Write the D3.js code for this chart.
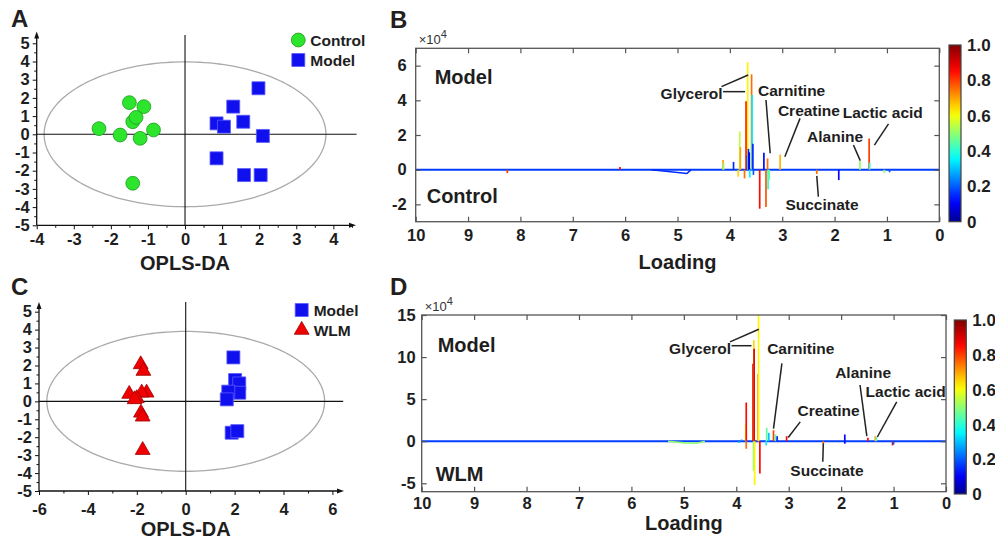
<!DOCTYPE html>
<html><head><meta charset="utf-8">
<script src="https://cdn.jsdelivr.net/npm/d3@7"></script>
<style>
body{margin:0;background:#fff;}
svg{font-family:"Liberation Sans",Arial,sans-serif;}
</style></head><body>
<svg id="c" width="995" height="546"></svg>
<script>
// ---------------- DATA ----------------
// Panel A: OPLS-DA scores (Control vs Model)
const controlA = [[-1.50,1.74],[-1.11,1.52],[-1.41,0.69],[-1.32,0.93],[-2.32,0.31],[-1.75,-0.04],[-1.21,-0.22],[-0.85,0.24],[-1.41,-2.69]];
const modelA   = [[1.98,2.53],[1.30,1.52],[1.57,0.69],[0.85,0.60],[1.05,0.42],[2.10,-0.09],[0.85,-1.32],[1.59,-2.24],[2.04,-2.24]];
// Panel C: OPLS-DA scores (Model vs WLM)
const modelC   = [[1.95,2.45],[2.02,1.19],[2.19,1.00],[2.19,0.48],[1.74,0.54],[1.68,0.11],[1.88,-1.75],[2.11,-1.66]];
const wlmC     = [[-1.84,2.06],[-1.73,1.69],[-2.31,0.41],[-1.60,0.48],[-1.80,0.48],[-2.00,0.17],[-2.09,0.11],[-1.83,-0.64],[-1.76,-0.86],[-1.76,-2.72]];
const xTicksA = [-4,-3,-2,-1,0,1,2,3,4];
const xTicksC = [-6,-4,-2,0,2,4,6];
const yTicksAC = [-5,-4,-3,-2,-1,0,1,2,3,4,5];
const ellipseA = {rx:3.8, ry:3.98};
const ellipseC = {rx:5.68, ry:3.9};

// Panel B: loading peaks [ppm, value(x1e4), correlation]
const peaksB = [
 [8.25,-0.2,0.8],[6.1,0.15,0.85],
 [4.13,0.56,0.7],[4.12,0.4,0.5],[3.93,0.45,0.15],
 [3.84,-0.4,0.65],[3.81,2.2,0.55],[3.80,1.3,0.7],
 [3.72,-0.5,0.75],[3.69,3.95,0.85],[3.675,0.8,0.15],[3.66,6.2,0.62],
 [3.645,1.2,0.15],[3.63,1.0,0.1],[3.62,-0.45,0.35],[3.585,5.5,0.75],[3.575,4.3,0.35],
 [3.56,1.5,0.15],[3.55,-0.3,0.2],[3.43,-2.25,0.85],[3.35,0.98,0.12],[3.31,-2.15,0.78],
 [3.28,0.65,0.75],[3.27,-1.15,0.4],[3.25,-0.6,0.45],[3.04,0.87,0.68],
 [2.34,-0.25,0.75],[1.92,-0.6,0.12],[1.515,0.5,0.5],[1.34,1.8,0.8],[1.33,0.4,0.4],
 [1.05,-0.2,0.5],[0.95,-0.15,0.2]
];
const dipB = [[5.5,0],[4.82,-0.22],[4.74,0]];
// Panel D: loading peaks [ppm, value(x1e4), correlation]
const peaksD = [
 [3.95,-0.2,0.3],[3.9,0.2,0.25],
 [3.82,2.0,0.6],[3.81,4.6,0.85],[3.81,-0.9,0.75],
 [3.68,9.2,0.88],[3.67,-3.5,0.5],[3.665,12.0,0.65],[3.66,11.0,0.9],[3.65,-5.2,0.62],
 [3.585,8.0,0.72],[3.575,15,0.62],[3.55,-3.85,0.85],
 [3.43,-0.5,0.35],[3.42,1.6,0.45],[3.38,1.0,0.3],[3.29,1.3,0.8],[3.25,0.8,0.45],[3.22,0.6,0.15],
 [3.04,0.6,0.85],[2.34,-0.3,0.75],[1.93,0.8,0.12],[1.93,-0.3,0.12],
 [1.49,0.4,0.85],[1.35,0.6,0.7],[1.33,0.5,0.45],[1.02,-0.5,0.85],[1.0,-0.4,0.2]
];
const smearD = [[5.3,0],[5.0,-0.2],[4.75,-0.25],[4.6,0]];
const xTicksLoad = [10,9,8,7,6,5,4,3,2,1,0];
const yTicksB = [-2,0,2,4,6];
const yTicksD = [-5,0,5,10,15];
const cbTicks = [0,0.2,0.4,0.6,0.8,1.0];

const annotB = [
 {t:"Glycerol", at:[4.73,4.41], lines:[[[4.16,4.79],[3.65,5.46]],[[4.13,4.50],[3.71,4.50]]]},
 {t:"Carnitine", at:[2.82,4.56], lines:[[[3.31,4.02],[3.23,0.95]]]},
 {t:"Creatine", at:[2.49,3.44], lines:[[[2.66,2.96],[2.95,0.75]]]},
 {t:"Lactic acid", at:[1.08,3.29], lines:[[[0.97,2.64],[1.24,1.42]]]},
 {t:"Alanine", at:[1.99,1.94], lines:[[[1.64,1.42],[1.51,0.52]]]},
 {t:"Succinate", at:[2.24,-1.98], lines:[[[2.31,-1.56],[2.34,-0.36]]]}
];
const annotD = [
 {t:"Glycerol", at:[4.69,11.04], lines:[[[4.12,11.8],[3.57,13.3]],[[4.09,11.35],[3.71,11.35]]]},
 {t:"Carnitine", at:[2.77,11.04], lines:[[[3.13,9.24],[3.29,1.5]]]},
 {t:"Creatine", at:[2.24,3.7], lines:[[[2.78,2.3],[3.01,0.45]]]},
 {t:"Alanine", at:[1.58,8.12], lines:[[[1.64,6.68],[1.51,0.6]]]},
 {t:"Lactic acid", at:[0.77,5.86], lines:[[[0.94,4.67],[1.31,0.5]]]},
 {t:"Succinate", at:[2.27,-3.43], lines:[[[2.35,-2.44],[2.34,-0.25]]]}
];

// ---------------- DRAW ----------------
const svg = d3.select("#c");
const TXT = "#1e1e1e";
const jet = d3.scaleLinear()
  .domain([0,0.11,0.36,0.61,0.86,1])
  .range(["#00008f","#0000ff","#00ffff","#ffff00","#ff0000","#800000"])
  .interpolate(d3.interpolateRgb);

const defs = svg.append("defs");
const grad = defs.append("linearGradient").attr("id","jet").attr("x1",0).attr("x2",0).attr("y1",1).attr("y2",0);
d3.range(0,1.0001,0.05).forEach(t=>grad.append("stop").attr("offset",t).attr("stop-color",jet(t)));

function panelLetter(t,x,y){
  svg.append("text").attr("x",x).attr("y",y).text(t)
    .attr("font-size",24).attr("font-weight","bold").attr("fill","#231f20");
}

function scatterPanel(o){
  const x = d3.scaleLinear().domain(o.xdom).range(o.xr);
  const y = d3.scaleLinear().domain([-5,5]).range(o.yr);
  const g = svg.append("g");
  const pts = d3.range(0,361,2).map(a=>{const t=a*Math.PI/180;return [o.ell.rx*Math.cos(t),o.ell.ry*Math.sin(t)];});
  g.append("path").attr("d",d3.line().x(d=>x(d[0])).y(d=>y(d[1]))(pts))
    .attr("fill","none").attr("stroke","#aaaaaa").attr("stroke-width",1.3);
  g.append("line").attr("x1",x(0)).attr("x2",x(0)).attr("y1",y(-5)).attr("y2",o.vTop)
    .attr("stroke","#111").attr("stroke-width",1.1);
  g.append("line").attr("x1",x(o.xdom[0])).attr("x2",x(o.xdom[1])+1).attr("y1",y(0)).attr("y2",y(0))
    .attr("stroke","#111").attr("stroke-width",1.1);
  const fmt = d=>String(d);
  g.append("g").attr("transform",`translate(${x(o.xdom[0])},0)`)
    .call(d3.axisLeft(y).tickValues(yTicksAC).tickSize(4).tickPadding(3).tickFormat(fmt));
  g.append("g").attr("transform",`translate(${x(o.xdom[0])},0)`)
    .call(d3.axisLeft(y).tickValues(d3.range(-4.5,5,1)).tickSize(2.5).tickFormat(""));
  g.append("g").attr("transform",`translate(0,${y(-5)})`)
    .call(d3.axisBottom(x).tickValues(o.xticks).tickSize(4).tickPadding(o.xpad).tickFormat(fmt));
  g.append("g").attr("transform",`translate(0,${y(-5)})`)
    .call(d3.axisBottom(x).tickValues(o.xminor).tickSize(2.5).tickFormat(""));
  g.selectAll(".domain").remove();
  g.selectAll(".tick line").attr("stroke","#111");
  g.selectAll(".tick text").attr("font-size",16.5).attr("font-weight","bold").attr("fill",TXT)
    .attr("font-family",'"Liberation Sans",Arial,sans-serif');
  const x0 = x(o.xdom[0]), yb = y(-5);
  g.append("line").attr("x1",x0).attr("x2",x0).attr("y1",yb).attr("y2",o.yTop+3).attr("stroke","#111").attr("stroke-width",1.3);
  g.append("line").attr("x1",x0).attr("x2",o.xRight-3).attr("y1",yb).attr("y2",yb).attr("stroke","#111").attr("stroke-width",1.3);
  g.append("path").attr("d",`M${x0},${o.yTop} L${x0-2.5},${o.yTop+7} L${x0+2.5},${o.yTop+7}Z`).attr("fill","#111");
  g.append("path").attr("d",`M${o.xRight},${yb} L${o.xRight-7},${yb-2.5} L${o.xRight-7},${yb+2.5}Z`).attr("fill","#111");
  g.append("text").attr("x",x(0)).attr("y",o.titleY).attr("text-anchor","middle")
    .attr("font-size",20).attr("font-weight","bold").attr("fill",TXT).text("OPLS-DA");
  o.groups.forEach(gr=>{
    const sym = d3.symbol().type(gr.shape==="circle"?d3.symbolCircle:gr.shape==="square"?d3.symbolSquare:d3.symbolTriangle).size(gr.size);
    g.append("g").selectAll("path").data(gr.data).join("path")
      .attr("transform",d=>`translate(${x(d[0])},${y(d[1])})`)
      .attr("d",sym).attr("fill",gr.fill).attr("stroke",gr.stroke).attr("stroke-width",0.8);
    const lg = g.append("g").attr("transform",`translate(${o.legX},${gr.legY})`);
    lg.append("path").attr("d",sym).attr("fill",gr.fill).attr("stroke",gr.stroke).attr("stroke-width",0.8);
    lg.append("text").attr("x",12).attr("dy","0.36em").attr("font-size",15.5).attr("font-weight","bold")
      .attr("fill",TXT).text(gr.name);
  });
}

const green = {fill:"#2ee52e",stroke:"#1a9a1a"};
const blue  = {fill:"#1010ee",stroke:"#5a5aff"};
const red   = {fill:"#f00000",stroke:"#a00000"};

scatterPanel({
  xdom:[-4,4.6], xr:[36.7,355.6], yr:[225.3,43.3], ell:ellipseA,
  xticks:xTicksA, xminor:d3.range(-3.5,4.6,1), xpad:4,
  vTop:35, yTop:31.5, xRight:356, titleY:270, legX:298.3,
  groups:[
    {name:"Control",shape:"circle",size:150,data:controlA,legY:40,...green},
    {name:"Model",shape:"square",size:169,data:modelA,legY:60,...blue}
  ]
});
scatterPanel({
  xdom:[-6,6.4], xr:[39,342.2], yr:[491,311.7], ell:ellipseC,
  xticks:xTicksC, xminor:d3.range(-5,6.4,2), xpad:8,
  vTop:302, yTop:302, xRight:344, titleY:536, legX:301.7,
  groups:[
    {name:"Model",shape:"square",size:169,data:modelC,legY:310,...blue},
    {name:"WLM",shape:"triangle",size:95,data:wlmC,legY:330,...red}
  ]
});

function loadingPanel(o){
  const x = d3.scaleLinear().domain([10,0]).range([o.left,o.right]);
  const y = d3.scaleLinear().domain(o.ydom).range([o.bottom,o.top]);
  const g = svg.append("g");
  const base = jet(0.17);
  g.append("line").attr("x1",x(10)).attr("x2",x(0)).attr("y1",y(0)).attr("y2",y(0))
    .attr("stroke",base).attr("stroke-width",2);
  if(o.dip) g.append("path").attr("d",d3.line().x(d=>x(d[0])).y(d=>y(d[1]))(o.dip))
    .attr("fill","none").attr("stroke",o.dipColor).attr("stroke-width",1.6);
  g.selectAll(".pk").data(o.peaks).join("line")
    .attr("x1",d=>x(d[0])).attr("x2",d=>x(d[0]))
    .attr("y1",y(0)).attr("y2",d=>y(d[1]))
    .attr("stroke",d=>jet(d[2])).attr("stroke-width",1.7);
  o.annot.forEach(a=>{
    a.lines.forEach(l=>g.append("line").attr("x1",x(l[0][0])).attr("y1",y(l[0][1]))
      .attr("x2",x(l[1][0])).attr("y2",y(l[1][1])).attr("stroke","#222").attr("stroke-width",1.5));
    g.append("text").attr("x",x(a.at[0])).attr("y",y(a.at[1])).attr("dy","0.36em")
      .attr("text-anchor","middle").attr("font-size",15.5).attr("font-weight","bold").attr("fill",TXT).text(a.t);
  });
  g.append("rect").attr("x",o.left).attr("y",o.top).attr("width",o.right-o.left).attr("height",o.bottom-o.top)
    .attr("fill","none").attr("stroke","#555").attr("stroke-width",1.3);
  const tk = (sel)=>{sel.select(".domain").remove();sel.selectAll(".tick line").attr("stroke","#555").attr("stroke-width",1.2);
    sel.selectAll(".tick text").attr("font-size",16.5).attr("font-weight","bold").attr("fill",TXT)
      .attr("font-family",'"Liberation Sans",Arial,sans-serif');};
  g.append("g").attr("transform",`translate(0,${o.bottom})`)
    .call(d3.axisBottom(x).tickValues(xTicksLoad).tickSize(-5).tickPadding(o.xpad).tickFormat(d=>String(d))).call(tk);
  g.append("g").attr("transform",`translate(0,${o.top})`)
    .call(d3.axisTop(x).tickValues(xTicksLoad).tickSize(-5).tickFormat("")).call(tk);
  g.append("g").attr("transform",`translate(${o.left},0)`)
    .call(d3.axisLeft(y).tickValues(o.yticks).tickSize(-5).tickPadding(o.ypad).tickFormat(d=>String(d))).call(tk);
  g.append("g").attr("transform",`translate(${o.right},0)`)
    .call(d3.axisRight(y).tickValues(o.yticks).tickSize(-5).tickFormat("")).call(tk);
  const ex = g.append("text").attr("x",o.left+3).attr("y",o.top-4).attr("font-size",13).attr("fill","#333");
  ex.append("tspan").text("×10");
  ex.append("tspan").attr("dy",-6).attr("font-size",11).text("4");
  g.append("text").attr("x",o.left+o.topLab[0]).attr("y",o.topLab[1]).attr("font-size",20).attr("font-weight","bold").attr("fill",TXT).text("Model");
  g.append("text").attr("x",o.left+o.botLab[0]).attr("y",o.botLab[1]).attr("font-size",20).attr("font-weight","bold").attr("fill",TXT).text(o.botName);
  g.append("text").attr("x",(o.left+o.right)/2).attr("y",o.titleY).attr("text-anchor","middle")
    .attr("font-size",20).attr("font-weight","bold").attr("fill",TXT).text("Loading");
  const cy = d3.scaleLinear().domain([0,1]).range([o.cb.bottom,o.cb.top]);
  g.append("rect").attr("x",o.cb.x).attr("y",o.cb.top).attr("width",o.cb.w).attr("height",o.cb.bottom-o.cb.top)
    .attr("fill","url(#jet)").attr("stroke","#444").attr("stroke-width",1.2);
  g.selectAll(".cbl").data(cbTicks).join("text").attr("x",o.cb.x+o.cb.w+6).attr("y",d=>cy(d)).attr("dy","0.36em")
    .attr("font-size",17).attr("font-weight","bold").attr("fill",TXT).text(d=>d===0?"0":d.toFixed(1));
}

loadingPanel({
  left:415.7, right:939.3, top:48.3, bottom:221.7, ydom:[-3,7], yticks:yTicksB,
  peaks:peaksB, dip:dipB, dipColor:jet(0.15), annot:annotB, xpad:7.5, ypad:9,
  topLab:[19,84.3], botLab:[11,203], botName:"Control", titleY:269,
  cb:{x:949,w:12,top:45,bottom:221.7}
});
loadingPanel({
  left:421.7, right:946, top:315, bottom:491.7, ydom:[-6,15], yticks:yTicksD,
  peaks:peaksD, dip:smearD, dipColor:jet(0.5), annot:annotD, xpad:6, ypad:6,
  topLab:[16,351.7], botLab:[14,480.7], botName:"WLM", titleY:530,
  cb:{x:954.3,w:12,top:320,bottom:494}
});

panelLetter("A",11,27);
panelLetter("B",390,28);
panelLetter("C",11,295);
panelLetter("D",390,295);
</script>
</body></html>
